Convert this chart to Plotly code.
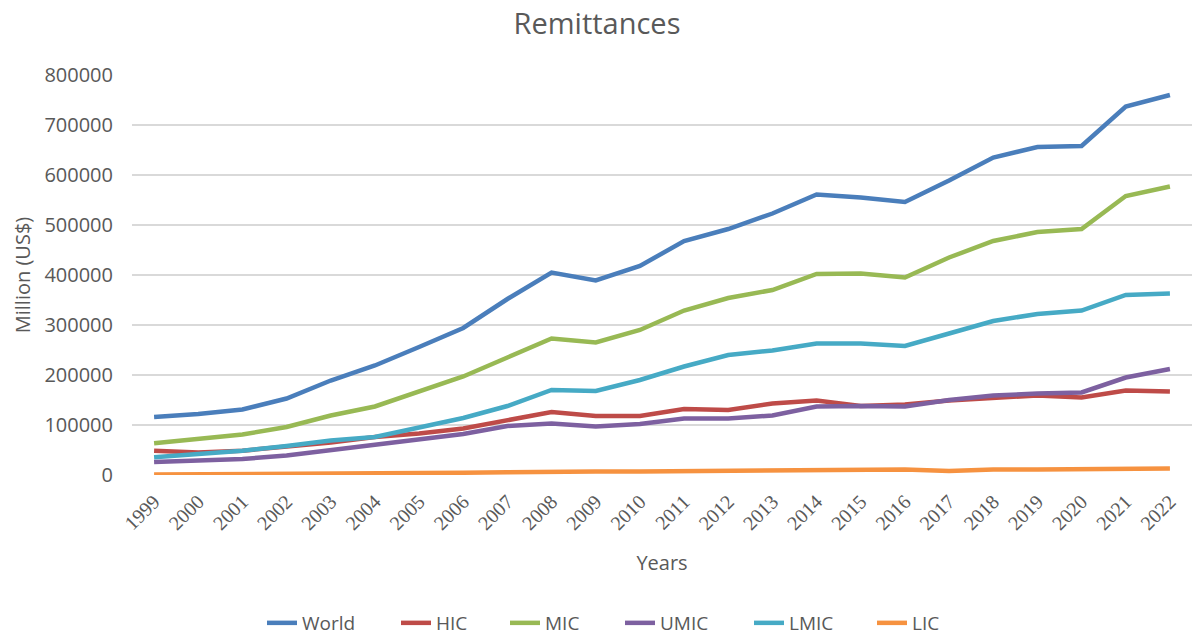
import plotly.graph_objects as go

years = [str(y) for y in range(1999, 2023)]

world = [116000, 122000, 131000, 153000, 189000, 219000, 256000, 294000, 352000, 405000, 389000, 418000,
         468000, 492000, 523000, 561000, 555000, 546000, 589000, 635000, 656000, 658000, 737000, 760000]
hic = [48700, 45000, 48700, 56000, 65000, 76000, 83000, 93000, 110000, 126000, 118000, 118000,
       132000, 130000, 143000, 149000, 138000, 141000, 149000, 155000, 159000, 155000, 169000, 167000]
mic = [63500, 73000, 81000, 96000, 119000, 137000, 167000, 197000, 235000, 273000, 265000, 290000,
       329000, 354000, 370000, 402000, 403000, 395000, 435000, 468000, 486000, 492000, 558000, 577000]
umic = [26000, 30000, 32000, 39000, 50000, 62000, 71000, 82000, 98000, 103000, 97000, 102000,
        113000, 113000, 119000, 137000, 138000, 137000, 150000, 159000, 163000, 165000, 195000, 212000]
lmic = [35500, 42000, 48700, 58000, 69000, 76000, 95000, 114000, 138000, 170000, 168000, 190000,
        217000, 240000, 249000, 263000, 263000, 258000, 283000, 308000, 322000, 329000, 360000, 363000]
lic = [1000, 1200, 1500, 2500, 3000, 3500, 4000, 4500, 5500, 7000, 7000, 7000,
       7500, 8500, 9000, 11000, 11000, 11000, 8000, 11000, 11000, 11000, 11000, 13000]

series = [("World", world, "#4A7EBB"), ("HIC", hic, "#BE4B48"), ("MIC", mic, "#98B954"),
          ("UMIC", umic, "#7D60A0"), ("LMIC", lmic, "#46AAC5"), ("LIC", lic, "#F69240")]

# pixel x of each legend entry's start (layout only)
legend_px = [258, 392, 501, 616, 745, 868]
L, R = 132, 2
W = 1194 - L - R

grey = "#595959"
fig = go.Figure()
legend_layout = {}
for i, (name, vals, col) in enumerate(series):
    lid = "legend" if i == 0 else f"legend{i + 1}"
    fig.add_trace(go.Scatter(x=years, y=vals, name=name, mode="lines",
                             line=dict(color=col, width=4.5), legend=lid))
    legend_layout[lid] = dict(x=(legend_px[i] + 4 - L) / W, xanchor="left",
                              y=-0.37, yanchor="middle", bgcolor="rgba(0,0,0,0)",
                              font=dict(size=19, color=grey), itemwidth=30)

fig.update_layout(
    width=1194, height=638,
    margin=dict(l=L, r=R, t=75, b=163, autoexpand=False),
    paper_bgcolor="white", plot_bgcolor="white",
    font=dict(family="Open Sans", size=20, color=grey),
    title=dict(text="Remittances", x=0.5, xanchor="center", y=0.962, yanchor="middle",
               font=dict(size=29, color=grey, family="Open Sans")),
    showlegend=True,
    xaxis=dict(type="category", range=[-0.5, 23.5], tickangle=-45, showgrid=False,
               automargin=False,
               tickfont=dict(family="Liberation Serif", size=20, color=grey),
               ticklabelstandoff=10,
               title=dict(text="Years", standoff=22, font=dict(size=20, color=grey)),
               showline=False, zeroline=False),
    yaxis=dict(range=[0, 800000], tick0=0, dtick=100000, tickformat="d",
               automargin=False,
               gridcolor="#D9D9D9", gridwidth=1.5, zeroline=False, showline=False,
               tickfont=dict(size=20, color=grey),
               ticklabelstandoff=18,
               title=dict(text="Million (US$)", standoff=8, font=dict(size=20, color=grey))),
    **legend_layout,
)

fig.write_html("out.html")
